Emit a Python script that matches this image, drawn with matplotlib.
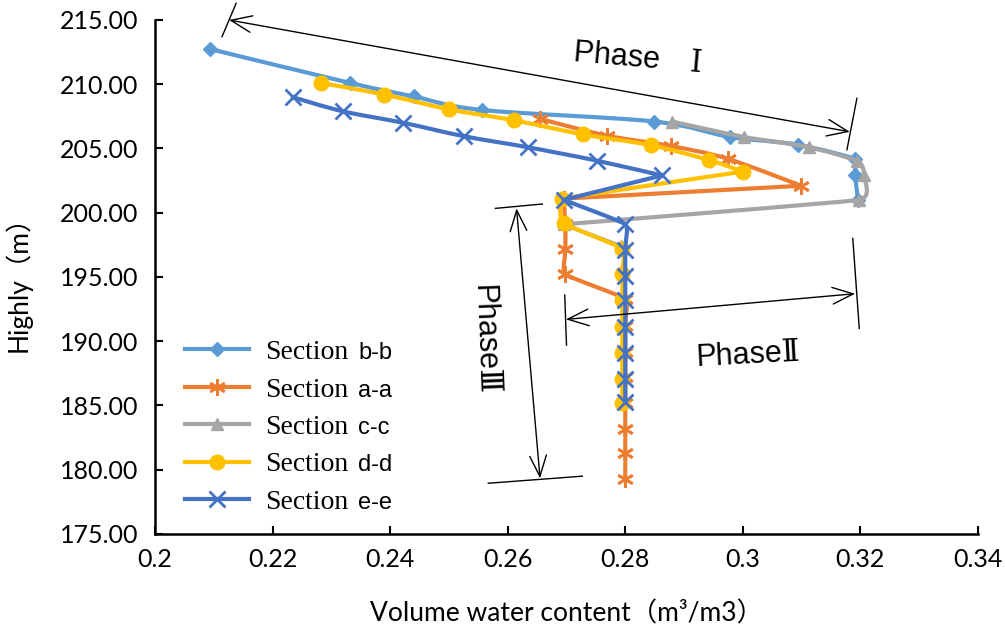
import matplotlib
matplotlib.use("Agg")
import matplotlib.pyplot as plt
from matplotlib.patches import FancyArrowPatch, PathPatch
from matplotlib.path import Path
from matplotlib.lines import Line2D
from matplotlib.font_manager import FontProperties
import numpy as np

plt.rcParams['font.family'] = ['Lato', 'Noto Sans CJK SC']

# values
bb_x = [0.2093, 0.2332, 0.2440, 0.2556, 0.2849, 0.2978, 0.3093, 0.3190, 0.3191, 0.3196]
bb_y = [212.75, 210.1, 209.05, 208.0, 207.1, 205.9, 205.3, 204.2, 202.9, 201.0]

aa_x = [0.2655, 0.2769, 0.2877, 0.2974, 0.3099, 0.2695, 0.2698, 0.2698, 0.2698,
        0.2800, 0.2800, 0.2800, 0.2800, 0.2800, 0.2800, 0.2800, 0.2800]
aa_y = [207.3, 206.0, 205.2, 204.2, 202.1, 201.1, 199.1, 197.2, 195.2,
        193.3, 191.2, 189.2, 187.2, 185.2, 183.2, 181.3, 179.3]

cc_x = [0.2879, 0.3002, 0.3112, 0.3195, 0.3206, 0.3197, 0.2695, 0.2792]
cc_y = [207.1, 205.9, 205.1, 204.0, 202.9, 201.0, 199.1, 197.4]

dd_x = [0.2282, 0.2390, 0.2500, 0.2610, 0.2728, 0.2844, 0.2942, 0.3000, 0.2692, 0.2695,
        0.2795, 0.2795, 0.2795, 0.2795, 0.2795, 0.2795, 0.2795]
dd_y = [210.1, 209.2, 208.05, 207.2, 206.1, 205.25, 204.1, 203.2, 201.1, 199.2,
        197.2, 195.2, 193.2, 191.1, 189.1, 187.1, 185.2]

ee_x = [0.2234, 0.2319, 0.2422, 0.2526, 0.2634, 0.2752, 0.2862, 0.2695, 0.2800,
        0.2800, 0.2800, 0.2800, 0.2800, 0.2800, 0.2800, 0.2800]
ee_y = [209.0, 207.9, 207.0, 205.95, 205.1, 204.05, 202.9, 201.0, 199.1,
        197.1, 195.1, 193.2, 191.1, 189.1, 187.1, 185.3]

names = ['b-b', 'a-a', 'c-c', 'd-d', 'e-e']
colors = ['#5B9BD5', '#ED7D31', '#A5A5A5', '#FFC000', '#4472C4']
markers = ['D', (6, 2, 0), '^', 'o', 'x']
msizes = [7, 12, 9, 10.5, 11]
series = [(bb_x, bb_y), (aa_x, aa_y), (cc_x, cc_y), (dd_x, dd_y), (ee_x, ee_y)]

xticks = [0.2, 0.22, 0.24, 0.26, 0.28, 0.3, 0.32, 0.34]
xticklabels = ['0.2', '0.22', '0.24', '0.26', '0.28', '0.3', '0.32', '0.34']
yticks = [175, 180, 185, 190, 195, 200, 205, 210, 215]


def smooth_path(xs, ys, sx=5880.0, sy=12.85):
    # excel-like smoothed line: catmull-rom bezier, flattened at sharp turns
    p = np.column_stack([xs, ys])
    sc = np.array([sx, sy])
    ext = np.vstack([p[0], p, p[-1]])
    n = len(p)

    def tangent(k):
        a, b, c = ext[k], ext[k + 1], ext[k + 2]
        d0, d1 = (b - a) * sc, (c - b) * sc
        n0, n1 = np.hypot(*d0), np.hypot(*d1)
        f = 1.0
        if n0 > 0 and n1 > 0:
            f = max(0.0, np.dot(d0, d1) / (n0 * n1))
        return (c - a) / 6 * f

    tans = [tangent(k) for k in range(n)]
    verts = [p[0]]
    codes = [Path.MOVETO]
    for i in range(n - 1):
        verts += [p[i] + tans[i], p[i + 1] - tans[i + 1], p[i + 1]]
        codes += [Path.CURVE4] * 3
    return Path(verts, codes)


fig = plt.figure(figsize=(10.05, 6.36), dpi=100)
ax = fig.add_axes([155 / 1005, 1 - 534 / 636, 823 / 1005, 514 / 636])

handles = []
for (xs, ys), c, m, ms, i in zip(series, colors, markers, msizes, range(5)):
    ax.add_patch(PathPatch(smooth_path(xs, ys), fill=False, ec=c, lw=3,
                           zorder=2 + i * 0.1, capstyle='round', joinstyle='round'))
    mew = 2 if m in ('x', (6, 2, 0)) else 1
    ax.plot(xs, ys, ls='none', marker=m, ms=ms, color=c, mec=c, mew=mew,
            zorder=2.05 + i * 0.1)
    handles.append(Line2D([], [], color=c, lw=3, marker=m, ms=ms, mec=c, mew=mew))

ax.set_xlim(0.2, 0.34)
ax.set_ylim(175, 215)
ax.set_xticks(xticks)
ax.set_xticklabels(xticklabels)
ax.set_yticks(yticks)
ax.set_yticklabels(['%.2f' % v for v in yticks])
for s in ['top', 'right']:
    ax.spines[s].set_visible(False)
for s in ['left', 'bottom']:
    ax.spines[s].set_linewidth(1.8)
ax.tick_params(direction='in', length=6, width=1.5, labelsize=18, pad=10)
ax.tick_params(axis='y', pad=12)

ax.set_xlabel('Volume water content（m³/m3）', fontsize=19, labelpad=22)
ax.set_ylabel('Highly（m）', fontsize=19, labelpad=20)

# legend: "Section" in serif, section name in sans
leg = ax.legend(handles, ['Section'] * 5, loc='upper left', bbox_to_anchor=(0.036, 0.378),
                frameon=False, prop=FontProperties(family='Liberation Serif', size=20),
                handlelength=2.3, handletextpad=0.6, labelspacing=0.43,
                borderaxespad=0, borderpad=0)
for t, n in zip(leg.get_texts(), names):
    ax.annotate(n, xy=(1, 0), xycoords=t, xytext=(7, 4.3), textcoords='offset points',
                ha='left', va='baseline', fontsize=17, family='Liberation Sans', zorder=10)

# phase annotations
arrow_kw = dict(arrowstyle='<->,head_length=15,head_width=6', lw=1.0, color='black',
                shrinkA=0, shrinkB=0, clip_on=False, zorder=6)
ax.add_patch(FancyArrowPatch((0.2126, 215.0), (0.3182, 206.3), **arrow_kw))
ax.add_patch(FancyArrowPatch((0.2699, 191.7), (0.3191, 193.7), **arrow_kw))
ax.add_patch(FancyArrowPatch((0.2615, 200.34), (0.2655, 179.33), **arrow_kw))

tick_lines = [((0.2138, 0.2114), (216.3, 213.7)),
              ((0.3194, 0.3177), (208.9, 204.9)),
              ((0.2697, 0.2700), (193.6, 189.7)),
              ((0.3187, 0.3198), (198.0, 191.0)),
              ((0.2579, 0.2659), (200.34, 200.68)),
              ((0.2567, 0.2727), (178.95, 179.5))]
for lx, ly in tick_lines:
    ax.plot(lx, ly, color='black', lw=1.0, clip_on=False, zorder=6)

phase_font = ['Liberation Sans', 'DejaVu Serif', 'Noto Sans CJK SC']
ax.text(0.2822, 212.0, 'Phase　Ⅰ', fontsize=22, family=phase_font, rotation=-5,
        ha='center', va='center', rotation_mode='anchor')
ax.text(0.3009, 188.9, 'PhaseⅡ', fontsize=22, family=phase_font, rotation=3,
        ha='center', va='center', rotation_mode='anchor')
ax.text(0.2561, 190.1, 'PhaseⅢ', fontsize=22, family=phase_font, rotation=-88,
        ha='center', va='center', rotation_mode='anchor')

fig.canvas.draw()
fig.savefig('out.png', dpi=100)
